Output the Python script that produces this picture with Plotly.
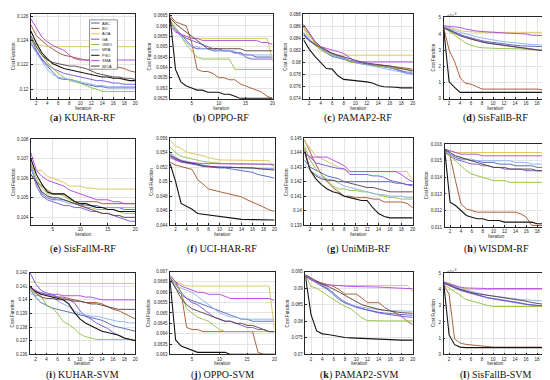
import plotly.graph_objects as go

ITER = list(range(1, 21))
SERIES = ["ABC", "BO", "AOA", "GA", "GWO", "MPA", "PSO", "SMA", "WOA"]
COLORS = {"ABC": "#4a62b4", "BO": "#a0502a", "AOA": "#d6c452", "GA": "#7050d8",
          "GWO": "#8fbf3a", "MPA": "#88b0ee", "PSO": "#141414", "SMA": "#b23fe0",
          "WOA": "#5a3a3c"}

kuhar_rf = dict(
    ABC=[0.1238,0.1231,0.1224,0.1219,0.1214,0.1209,0.1208,0.1208,0.1207,0.1205,0.1204,0.1203,0.1202,0.1202,0.1201,0.1201,0.1201,0.1201,0.1201,0.1201],
    BO=[0.1253,0.1244,0.1240,0.1236,0.1233,0.1230,0.1228,0.1227,0.1226,0.1225,0.1224,0.1224,0.1223,0.1222,0.1221,0.1219,0.1218,0.1217,0.1215,0.1214],
    AOA=[0.1239,0.1237,0.1236,0.1235,0.1235,0.1235,0.1235,0.1235,0.1235,0.1235,0.1235,0.1235,0.1235,0.1235,0.1235,0.1235,0.1235,0.1235,0.1235,0.1235],
    GA=[0.1242,0.1232,0.1225,0.1220,0.1217,0.1215,0.1213,0.1212,0.1211,0.1210,0.1209,0.1208,0.1207,0.1207,0.1206,0.1205,0.1205,0.1204,0.1204,0.1204],
    GWO=[0.1241,0.1234,0.1228,0.1222,0.1217,0.1213,0.1210,0.1207,0.1206,0.1205,0.1203,0.1201,0.1200,0.1198,0.1198,0.1198,0.1198,0.1198,0.1198,0.1198],
    MPA=[0.1237,0.1230,0.1222,0.1216,0.1212,0.1210,0.1209,0.1208,0.1207,0.1206,0.1205,0.1204,0.1203,0.1203,0.1202,0.1202,0.1202,0.1202,0.1202,0.1202],
    PSO=[0.1248,0.1238,0.1230,0.1225,0.1221,0.1219,0.1217,0.1216,0.1215,0.1214,0.1213,0.1212,0.1211,0.1210,0.1210,0.1209,0.1209,0.1208,0.1207,0.1207],
    SMA=[0.1258,0.1250,0.1243,0.1239,0.1236,0.1234,0.1232,0.1228,0.1225,0.1224,0.1224,0.1224,0.1224,0.1224,0.1224,0.1224,0.1224,0.1224,0.1224,0.1224],
    WOA=[0.1244,0.1235,0.1228,0.1224,0.1222,0.1221,0.1220,0.1219,0.1219,0.1218,0.1217,0.1215,0.1213,0.1212,0.1211,0.1210,0.1210,0.1209,0.1209,0.1208],
)

oppo_rf = dict(
    ABC=[0.0662,0.0659,0.0656,0.0653,0.0650,0.0649,0.0649,0.0649,0.0648,0.0648,0.0648,0.0648,0.0647,0.0647,0.0646,0.0646,0.0645,0.0645,0.0645,0.0645],
    BO=[0.0665,0.0662,0.0661,0.0660,0.0652,0.0639,0.0638,0.0638,0.0637,0.0635,0.0635,0.0634,0.0634,0.0632,0.0631,0.0630,0.0629,0.0628,0.0626,0.0625],
    AOA=[0.0663,0.0659,0.0656,0.0654,0.0654,0.0654,0.0654,0.0654,0.0654,0.0654,0.0654,0.0654,0.0654,0.0654,0.0654,0.0654,0.0654,0.0654,0.0654,0.0643],
    GA=[0.0661,0.0658,0.0656,0.0654,0.0653,0.0652,0.0651,0.0650,0.0649,0.0649,0.0648,0.0648,0.0647,0.0647,0.0645,0.0644,0.0644,0.0644,0.0644,0.0644],
    GWO=[0.0663,0.0658,0.0655,0.0651,0.0648,0.0645,0.0644,0.0644,0.0644,0.0644,0.0644,0.0644,0.0639,0.0639,0.0639,0.0639,0.0639,0.0639,0.0639,0.0639],
    MPA=[0.0661,0.0658,0.0655,0.0652,0.0650,0.0650,0.0649,0.0649,0.0649,0.0648,0.0648,0.0648,0.0648,0.0646,0.0646,0.0646,0.0646,0.0646,0.0646,0.0646],
    PSO=[0.0664,0.0639,0.0633,0.0631,0.0630,0.0629,0.0629,0.0628,0.0628,0.0628,0.0627,0.0627,0.0626,0.0625,0.0625,0.0625,0.0625,0.0625,0.0625,0.0625],
    SMA=[0.0660,0.0657,0.0656,0.0655,0.0654,0.0654,0.0653,0.0653,0.0653,0.0653,0.0653,0.0653,0.0653,0.0653,0.0653,0.0653,0.0653,0.0652,0.0652,0.0651],
    WOA=[0.0664,0.0661,0.0659,0.0657,0.0655,0.0653,0.0651,0.0649,0.0649,0.0649,0.0649,0.0649,0.0649,0.0649,0.0648,0.0648,0.0648,0.0648,0.0648,0.0648],
)

pamap2_rf = dict(
    ABC=[0.0848,0.0838,0.0830,0.0822,0.0815,0.0810,0.0807,0.0805,0.0803,0.0801,0.0799,0.0797,0.0795,0.0794,0.0793,0.0791,0.0789,0.0785,0.0782,0.0781],
    BO=[0.0863,0.0850,0.0835,0.0826,0.0820,0.0815,0.0810,0.0806,0.0802,0.0800,0.0798,0.0797,0.0796,0.0796,0.0795,0.0794,0.0793,0.0792,0.0791,0.0789],
    AOA=[0.0856,0.0840,0.0828,0.0820,0.0815,0.0812,0.0812,0.0812,0.0812,0.0812,0.0812,0.0812,0.0812,0.0812,0.0812,0.0812,0.0812,0.0812,0.0812,0.0812],
    GA=[0.0845,0.0836,0.0829,0.0823,0.0818,0.0815,0.0812,0.0808,0.0803,0.0800,0.0798,0.0797,0.0796,0.0795,0.0794,0.0792,0.0789,0.0786,0.0784,0.0784],
    GWO=[0.0858,0.0845,0.0832,0.0823,0.0817,0.0813,0.0810,0.0806,0.0801,0.0799,0.0797,0.0796,0.0795,0.0794,0.0793,0.0792,0.0791,0.0789,0.0788,0.0787],
    MPA=[0.0850,0.0838,0.0829,0.0822,0.0816,0.0812,0.0809,0.0806,0.0803,0.0800,0.0798,0.0796,0.0794,0.0792,0.0790,0.0788,0.0786,0.0783,0.0781,0.0780],
    PSO=[0.0838,0.0822,0.0810,0.0800,0.0790,0.0789,0.0778,0.0772,0.0771,0.0771,0.0770,0.0768,0.0766,0.0762,0.0760,0.0760,0.0759,0.0758,0.0758,0.0758],
    SMA=[0.0862,0.0848,0.0834,0.0826,0.0823,0.0821,0.0818,0.0815,0.0808,0.0801,0.0801,0.0801,0.0801,0.0801,0.0801,0.0801,0.0801,0.0801,0.0801,0.0801],
    WOA=[0.0846,0.0836,0.0830,0.0825,0.0820,0.0815,0.0812,0.0809,0.0806,0.0804,0.0801,0.0799,0.0798,0.0797,0.0796,0.0794,0.0792,0.0790,0.0788,0.0786],
)

# values in units of 1e-3 (axis shows x10^-3)
sisfallb_rf_e3 = dict(
    ABC=[4.40,4.25,4.10,3.95,3.85,3.75,3.65,3.58,3.52,3.47,3.42,3.38,3.34,3.30,3.27,3.25,3.23,3.22,3.21,3.20],
    BO=[4.40,3.00,2.30,1.30,0.95,0.90,0.75,0.60,0.60,0.60,0.60,0.60,0.60,0.60,0.60,0.60,0.60,0.60,0.55,0.40],
    AOA=[4.50,4.40,4.30,4.20,4.15,4.12,4.10,4.10,4.10,4.10,4.10,4.10,4.10,4.10,4.10,4.10,4.10,4.10,4.10,0.50],
    GA=[4.42,4.30,4.12,3.95,3.82,3.70,3.60,3.52,3.45,3.40,3.35,3.30,3.25,3.20,3.15,3.10,3.06,3.03,3.01,3.00],
    GWO=[4.40,4.15,3.90,3.65,3.45,3.30,3.20,3.15,3.12,3.10,3.10,3.10,3.10,3.10,3.08,3.05,3.02,3.00,2.98,2.97],
    MPA=[4.45,4.35,4.22,4.10,4.00,3.90,3.82,3.75,3.68,3.62,3.57,3.52,3.48,3.44,3.40,3.37,3.35,3.33,3.32,3.31],
    PSO=[4.35,1.05,0.70,0.40,0.40,0.40,0.40,0.40,0.40,0.40,0.40,0.40,0.40,0.40,0.40,0.40,0.40,0.40,0.40,0.40],
    SMA=[4.50,4.48,4.45,4.40,4.30,4.22,4.18,4.15,4.12,4.10,4.08,4.05,4.04,4.03,4.02,4.00,3.92,3.90,3.90,3.90],
    WOA=[4.38,4.20,4.02,3.88,3.77,3.67,3.58,3.50,3.43,3.38,3.33,3.28,3.23,3.18,3.14,3.10,3.05,3.00,2.95,2.92],
)

sisfallm_rf = dict(
    ABC=[0.1065,0.1058,0.1052,0.1050,0.1049,0.1049,0.1049,0.1048,0.1047,0.1047,0.1046,0.1046,0.1046,0.1045,0.1045,0.1045,0.1045,0.1044,0.1044,0.1044],
    BO=[0.1062,0.1058,0.1056,0.1054,0.1052,0.1052,0.1052,0.1050,0.1048,0.1048,0.1048,0.1048,0.1048,0.1047,0.1047,0.1047,0.1047,0.1047,0.1047,0.1047],
    AOA=[0.1066,0.1064,0.1064,0.1061,0.1060,0.1059,0.1058,0.1056,0.1056,0.1056,0.1055,0.1055,0.10545,0.10545,0.10545,0.10545,0.10545,0.10545,0.10545,0.10545],
    GA=[0.1067,0.1056,0.1051,0.1049,0.1048,0.1047,0.1046,0.1046,0.1045,0.1045,0.1044,0.1043,0.1043,0.1042,0.1042,0.1041,0.1040,0.1039,0.1038,0.1038],
    GWO=[0.1068,0.1060,0.1055,0.1052,0.1052,0.1052,0.1051,0.1049,0.1048,0.1046,0.1045,0.1045,0.1044,0.1044,0.1044,0.1044,0.1043,0.1042,0.1042,0.1042],
    MPA=[0.1066,0.1057,0.1053,0.1051,0.1050,0.1049,0.1048,0.1047,0.1047,0.1046,0.1046,0.1046,0.1045,0.1045,0.1045,0.1045,0.1045,0.1045,0.1045,0.1045],
    PSO=[0.1070,0.1062,0.1057,0.1053,0.1052,0.1052,0.1052,0.1050,0.1048,0.1047,0.1047,0.1046,0.1045,0.1045,0.1044,0.1044,0.1043,0.1043,0.1043,0.1043],
    SMA=[0.1073,0.1064,0.1061,0.1059,0.1058,0.1057,0.1056,0.1054,0.1053,0.1052,0.1051,0.1050,0.1049,0.1049,0.1049,0.1048,0.1048,0.1047,0.1047,0.1047],
    WOA=[0.1062,0.1058,0.1053,0.1051,0.1050,0.1050,0.1049,0.1048,0.1047,0.1046,0.1045,0.1044,0.1043,0.1042,0.1042,0.1041,0.1041,0.1040,0.1040,0.1040],
)

ucihar_rf = dict(
    ABC=[0.0535,0.0530,0.0527,0.0526,0.0525,0.0523,0.0521,0.0520,0.0520,0.0519,0.0519,0.0518,0.0517,0.0516,0.0515,0.0513,0.0510,0.0508,0.0506,0.0505],
    BO=[0.0527,0.0523,0.0521,0.0519,0.0517,0.0503,0.0496,0.0490,0.0488,0.0486,0.0484,0.0483,0.0480,0.0479,0.0475,0.0472,0.0469,0.0465,0.0461,0.0459],
    AOA=[0.0557,0.0549,0.0546,0.0541,0.0539,0.0538,0.0536,0.0533,0.0531,0.0530,0.0530,0.0530,0.0530,0.0530,0.0530,0.0530,0.0530,0.0529,0.0529,0.0519],
    GA=[0.0538,0.0532,0.0528,0.0527,0.0526,0.0524,0.0522,0.0521,0.0520,0.0520,0.0520,0.0520,0.0519,0.0519,0.0519,0.0519,0.0518,0.0518,0.0518,0.0518],
    GWO=[0.0548,0.0540,0.0535,0.0533,0.0532,0.0530,0.0528,0.0527,0.0526,0.0526,0.0525,0.0525,0.0525,0.0525,0.0525,0.0525,0.0525,0.0525,0.0524,0.0522],
    MPA=[0.0540,0.0534,0.0530,0.0528,0.0527,0.0525,0.0523,0.0521,0.0521,0.0520,0.0520,0.0520,0.0519,0.0519,0.0519,0.0519,0.0519,0.0519,0.0518,0.0518],
    PSO=[0.0525,0.0500,0.0470,0.0466,0.0462,0.0456,0.0455,0.0454,0.0452,0.0451,0.0450,0.0450,0.0449,0.0448,0.0448,0.0448,0.0448,0.0447,0.0447,0.0447],
    SMA=[0.0533,0.0530,0.0528,0.0527,0.0526,0.0526,0.0525,0.0525,0.0525,0.0525,0.0525,0.0525,0.0524,0.0524,0.0524,0.0524,0.0524,0.0524,0.0524,0.0524],
    WOA=[0.0536,0.0532,0.0529,0.0527,0.0526,0.0524,0.0522,0.0521,0.0521,0.0520,0.0520,0.0520,0.0520,0.0519,0.0519,0.0519,0.0518,0.0517,0.0516,0.0516],
)

unimib_rf = dict(
    ABC=[0.1435,0.1430,0.1428,0.1426,0.1424,0.1423,0.1422,0.1420,0.1420,0.1420,0.1420,0.1420,0.1420,0.1420,0.1420,0.1420,0.1419,0.1419,0.1418,0.1418],
    BO=[0.1449,0.1440,0.1432,0.1425,0.1420,0.1416,0.1413,0.1410,0.1410,0.1409,0.1409,0.1409,0.1408,0.1408,0.1406,0.1406,0.1406,0.1406,0.1405,0.1402],
    AOA=[0.1448,0.1443,0.1438,0.1436,0.1434,0.1432,0.1430,0.1428,0.1427,0.1427,0.1427,0.1427,0.1427,0.1427,0.1427,0.1427,0.1427,0.1427,0.1427,0.1421],
    GA=[0.1440,0.1437,0.1433,0.1432,0.1431,0.1430,0.1429,0.1429,0.1425,0.1425,0.1425,0.1425,0.1424,0.1424,0.1423,0.1421,0.1420,0.1419,0.1418,0.1417],
    GWO=[0.1445,0.1435,0.1429,0.1425,0.1421,0.1417,0.1415,0.1415,0.1414,0.1414,0.1413,0.1413,0.1412,0.1411,0.1410,0.1409,0.1409,0.1408,0.1408,0.1408],
    MPA=[0.1432,0.1428,0.1425,0.1423,0.1422,0.1421,0.1419,0.1417,0.1416,0.1415,0.1414,0.1413,0.1412,0.1411,0.1411,0.1410,0.1410,0.1410,0.1409,0.1409],
    PSO=[0.1441,0.1428,0.1422,0.1418,0.1415,0.1413,0.1412,0.1410,0.1409,0.1408,0.1407,0.1407,0.1402,0.1398,0.1396,0.1395,0.1395,0.1395,0.1395,0.1395],
    SMA=[0.1440,0.1437,0.1437,0.1437,0.1437,0.1435,0.1433,0.1431,0.1427,0.1427,0.1427,0.1427,0.1427,0.1427,0.1427,0.1427,0.1427,0.1425,0.1422,0.1420],
    WOA=[0.1443,0.1428,0.1424,0.1422,0.1421,0.1421,0.1420,0.1420,0.1419,0.1418,0.1417,0.1416,0.1416,0.1415,0.1414,0.1413,0.1413,0.1413,0.1413,0.1413],
)

wisdm_rf = dict(
    ABC=[0.0157,0.0154,0.0152,0.0151,0.0151,0.0150,0.0150,0.0149,0.0149,0.0149,0.0148,0.0148,0.0148,0.0147,0.0147,0.0147,0.0147,0.0146,0.0146,0.0146],
    BO=[0.0157,0.0153,0.0138,0.0124,0.0121,0.0120,0.0119,0.0119,0.0119,0.0119,0.0119,0.0119,0.0119,0.0119,0.0118,0.0116,0.0111,0.0111,0.0111,0.0111],
    AOA=[0.0157,0.0156,0.0155,0.0155,0.0155,0.0155,0.0155,0.0155,0.0155,0.0155,0.0155,0.0155,0.0155,0.0155,0.0155,0.0155,0.0155,0.0155,0.0155,0.0127],
    GA=[0.0155,0.0153,0.0151,0.0150,0.0149,0.0148,0.0148,0.0147,0.0147,0.0146,0.0146,0.0145,0.0145,0.0145,0.0145,0.0144,0.0144,0.0144,0.0144,0.0143],
    GWO=[0.0156,0.0153,0.0150,0.0147,0.0144,0.0142,0.0141,0.0140,0.0139,0.0138,0.0138,0.0138,0.0137,0.0137,0.0137,0.0137,0.0137,0.0137,0.0137,0.0137],
    MPA=[0.0156,0.0154,0.0153,0.0152,0.0151,0.0151,0.0150,0.0150,0.0150,0.0150,0.0150,0.0150,0.0150,0.0149,0.0149,0.0149,0.0148,0.0148,0.0148,0.0148],
    PSO=[0.0157,0.0125,0.0123,0.0120,0.0117,0.0116,0.0115,0.0115,0.0114,0.0114,0.0114,0.0113,0.0113,0.0113,0.0113,0.0113,0.0113,0.0112,0.0112,0.0112],
    SMA=[0.0157,0.0156,0.0155,0.0154,0.0154,0.0154,0.0154,0.0153,0.0153,0.0153,0.0153,0.0153,0.0153,0.0153,0.0153,0.0153,0.0153,0.0153,0.0153,0.0153],
    WOA=[0.0157,0.0155,0.0153,0.0152,0.0151,0.0150,0.0149,0.0148,0.0147,0.0146,0.0146,0.0146,0.0145,0.0145,0.0145,0.0145,0.0145,0.0144,0.0144,0.0144],
)

kuhar_svm = dict(
    ABC=[0.1408,0.1402,0.1398,0.1396,0.1394,0.1393,0.1392,0.1391,0.1390,0.1389,0.1388,0.1387,0.1386,0.1385,0.1383,0.1381,0.1380,0.1379,0.1378,0.1377],
    BO=[0.1410,0.1406,0.1405,0.1404,0.1403,0.1402,0.1402,0.1401,0.1400,0.1399,0.1398,0.1398,0.1398,0.1397,0.1395,0.1393,0.1392,0.1390,0.1388,0.1386],
    AOA=[0.1413,0.1413,0.1412,0.1412,0.1412,0.1412,0.1412,0.1412,0.1412,0.1412,0.1412,0.1412,0.1412,0.1412,0.1412,0.1412,0.1412,0.1412,0.1412,0.1412],
    GA=[0.1420,0.1412,0.1407,0.1405,0.1404,0.1402,0.1401,0.1400,0.1398,0.1392,0.1388,0.1386,0.1383,0.1381,0.1379,0.1376,0.1374,0.1372,0.1371,0.1370],
    GWO=[0.1409,0.1403,0.1403,0.1396,0.1394,0.1390,0.1384,0.1382,0.1379,0.1375,0.1373,0.1372,0.1371,0.1371,0.1371,0.1371,0.1371,0.1371,0.1371,0.1371],
    MPA=[0.1405,0.1403,0.1405,0.1405,0.1403,0.1399,0.1397,0.1395,0.1392,0.1390,0.1389,0.1388,0.1388,0.1387,0.1386,0.1385,0.1384,0.1384,0.1383,0.1383],
    PSO=[0.1410,0.1406,0.1404,0.1403,0.1402,0.1401,0.1400,0.1397,0.1391,0.1386,0.1383,0.1381,0.1379,0.1377,0.1376,0.1375,0.1374,0.1372,0.1371,0.1370],
    SMA=[0.1409,0.1407,0.1405,0.1404,0.1404,0.1404,0.1403,0.1403,0.1403,0.1403,0.1402,0.1402,0.1401,0.1400,0.1400,0.1400,0.1400,0.1400,0.1400,0.1400],
    WOA=[0.1410,0.1405,0.1402,0.1401,0.1401,0.1400,0.1400,0.1400,0.1399,0.1399,0.1398,0.1397,0.1397,0.1396,0.1395,0.1394,0.1393,0.1393,0.1393,0.1393],
)

oppo_svm = dict(
    ABC=[0.0666,0.0662,0.0659,0.0657,0.0656,0.0655,0.0654,0.0653,0.0652,0.0651,0.0650,0.0649,0.0648,0.0647,0.0647,0.0646,0.0646,0.0646,0.0646,0.0646],
    BO=[0.0668,0.0665,0.0660,0.0643,0.0642,0.0642,0.0641,0.0641,0.0641,0.0641,0.0641,0.0641,0.0641,0.0641,0.0641,0.0641,0.0631,0.0630,0.0630,0.0630],
    AOA=[0.0668,0.0665,0.0664,0.0663,0.0663,0.0663,0.0663,0.0663,0.0663,0.0663,0.0663,0.0663,0.0663,0.0663,0.0663,0.0663,0.0663,0.0663,0.0663,0.0642],
    GA=[0.0667,0.0664,0.0660,0.0657,0.0655,0.0654,0.0652,0.0650,0.0648,0.0647,0.0646,0.0646,0.0645,0.0644,0.0643,0.0643,0.0642,0.0642,0.0641,0.0641],
    GWO=[0.0667,0.0664,0.0660,0.0652,0.0650,0.0648,0.0647,0.0646,0.0644,0.0642,0.0641,0.0641,0.0641,0.0641,0.0641,0.0641,0.0641,0.0641,0.0641,0.0641],
    MPA=[0.0665,0.0663,0.0662,0.0661,0.0660,0.0658,0.0656,0.0654,0.0652,0.0650,0.0649,0.0648,0.0648,0.0647,0.0647,0.0647,0.0647,0.0647,0.0647,0.0647],
    PSO=[0.0665,0.0637,0.0634,0.0633,0.0632,0.0631,0.0631,0.0631,0.0631,0.0631,0.0631,0.0630,0.0630,0.0630,0.0630,0.0630,0.0630,0.0630,0.0630,0.0630],
    SMA=[0.0668,0.0665,0.0663,0.0662,0.0661,0.0660,0.0660,0.0659,0.0659,0.0659,0.0658,0.0657,0.0657,0.0657,0.0657,0.0657,0.0657,0.0657,0.0657,0.0656],
    WOA=[0.0667,0.0662,0.0657,0.0654,0.0652,0.0651,0.0650,0.0649,0.0648,0.0647,0.0646,0.0646,0.0645,0.0645,0.0644,0.0644,0.0643,0.0642,0.0641,0.0641],
)

pamap2_svm = dict(
    ABC=[0.0940,0.0925,0.0915,0.0905,0.0895,0.0880,0.0865,0.0855,0.0848,0.0842,0.0838,0.0834,0.0830,0.0827,0.0825,0.0823,0.0821,0.0820,0.0819,0.0818],
    BO=[0.0935,0.0925,0.0920,0.0915,0.0910,0.0905,0.0895,0.0882,0.0882,0.0882,0.0870,0.0856,0.0856,0.0856,0.0842,0.0832,0.0825,0.0815,0.0800,0.0790],
    AOA=[0.0935,0.0925,0.0918,0.0912,0.0908,0.0908,0.0908,0.0908,0.0908,0.0908,0.0908,0.0908,0.0908,0.0908,0.0908,0.0908,0.0908,0.0908,0.0908,0.0888],
    GA=[0.0938,0.0928,0.0918,0.0908,0.0898,0.0885,0.0870,0.0858,0.0850,0.0844,0.0838,0.0833,0.0829,0.0825,0.0822,0.0819,0.0817,0.0815,0.0813,0.0812],
    GWO=[0.0938,0.0905,0.0900,0.0888,0.0878,0.0865,0.0855,0.0845,0.0838,0.0825,0.0810,0.0802,0.0801,0.0801,0.0801,0.0801,0.0801,0.0801,0.0801,0.0801],
    MPA=[0.0940,0.0928,0.0918,0.0910,0.0900,0.0885,0.0868,0.0858,0.0850,0.0845,0.0842,0.0840,0.0838,0.0835,0.0833,0.0832,0.0831,0.0831,0.0830,0.0830],
    PSO=[0.0937,0.0820,0.0771,0.0762,0.0760,0.0757,0.0752,0.0751,0.0750,0.0749,0.0748,0.0748,0.0747,0.0745,0.0744,0.0744,0.0743,0.0743,0.0743,0.0743],
    SMA=[0.0935,0.0925,0.0918,0.0912,0.0910,0.0908,0.0907,0.0906,0.0905,0.0905,0.0905,0.0905,0.0904,0.0903,0.0902,0.0901,0.0900,0.0899,0.0898,0.0898],
    WOA=[0.0940,0.0930,0.0920,0.0912,0.0905,0.0897,0.0888,0.0878,0.0868,0.0858,0.0850,0.0845,0.0840,0.0836,0.0833,0.0830,0.0828,0.0826,0.0825,0.0824],
)

# values in units of 1e-3 (axis shows x10^-3)
sisfallb_svm_e3 = dict(
    ABC=[4.45,4.30,4.15,4.00,3.90,3.80,3.70,3.60,3.50,3.45,3.40,3.35,3.30,3.25,3.18,3.10,3.05,3.00,2.95,2.92],
    BO=[4.30,3.70,0.95,0.70,0.62,0.58,0.55,0.50,0.45,0.45,0.45,0.45,0.45,0.45,0.45,0.45,0.45,0.45,0.45,0.45],
    AOA=[4.50,4.40,4.25,4.12,4.05,4.02,4.00,4.00,4.00,4.00,4.00,4.00,4.00,4.00,4.00,4.00,4.00,4.00,4.00,0.45],
    GA=[4.40,4.25,4.10,3.95,3.85,3.75,3.65,3.55,3.48,3.42,3.36,3.30,3.24,3.18,3.12,3.08,3.05,3.02,3.00,2.98],
    GWO=[4.30,4.10,3.90,3.65,3.40,3.30,3.20,3.10,3.02,2.95,2.95,2.95,2.95,2.95,2.95,2.95,2.95,2.95,2.95,2.95],
    MPA=[4.45,4.32,4.20,4.08,3.98,3.88,3.80,3.72,3.65,3.60,3.55,3.50,3.46,3.42,3.39,3.36,3.34,3.32,3.30,3.28],
    PSO=[4.45,1.20,0.60,0.45,0.42,0.42,0.42,0.42,0.42,0.42,0.42,0.42,0.42,0.42,0.42,0.42,0.42,0.42,0.42,0.42],
    SMA=[4.45,4.35,4.25,4.15,4.10,4.08,4.07,4.06,4.06,4.06,4.06,4.06,4.06,4.06,4.06,4.06,4.06,4.06,4.06,4.06],
    WOA=[4.40,4.25,4.12,4.00,3.90,3.82,3.75,3.70,3.65,3.60,3.55,3.50,3.45,3.40,3.35,3.28,3.20,3.15,3.10,3.05],
)

W, H = 550, 380
def px(x): return x / W
def py(y): return 1 - y / H

# (letter, caption, data, y range, y dtick, y tick0, x dtick, pixel box (l, r, t, b), exponent, label width px)
PANELS = [
    ("a", "KUHAR-RF", kuhar_rf, [0.1192, 0.1262], 0.002, 0.12, 2, (23, 128, 4, 90), False, 13),
    ("b", "OPPO-RF", oppo_rf, [0.06248, 0.06658], 0.0005, 0.0625, 5, (163, 266, 4, 90), False, 16),
    ("c", "PAMAP2-RF", pamap2_rf, [0.074, 0.088], 0.002, 0.074, 2, (297, 407, 4, 90), False, 13),
    ("d", "SisFallB-RF", sisfallb_rf_e3, [0, 5.05], 1, 0, 2, (438, 543, 7, 90), True, 5),
    ("e", "SisFallM-RF", sisfallm_rf, [0.1036, 0.108], 0.001, 0.104, 5, (23, 128, 131, 218), False, 13),
    ("f", "UCI-HAR-RF", ucihar_rf, [0.044, 0.056], 0.002, 0.044, 2, (163, 268, 130, 218), False, 13),
    ("g", "UniMiB-RF", unimib_rf, [0.139, 0.145], 0.001, 0.139, 2, (298, 407, 130, 218), False, 13),
    ("h", "WISDM-RF", wisdm_rf, [0.011, 0.016], 0.001, 0.011, 2, (439, 543, 136, 220), False, 13),
    ("i", "KUHAR-SVM", kuhar_svm, [0.136, 0.142], 0.001, 0.136, 2, (22, 128, 266, 349), False, 13),
    ("j", "OPPO-SVM", oppo_svm, [0.063, 0.067], 0.0005, 0.063, 5, (163, 268, 265, 349), False, 16),
    ("k", "PAMAP2-SVM", pamap2_svm, [0.07, 0.095], 0.005, 0.07, 2, (299, 407, 265, 349), False, 13),
    ("l", "SisFallB-SVM", sisfallb_svm_e3, [0, 5.05], 1, 0, 2, (438, 543, 266, 349), True, 5),
]
CAPTION_Y = {0: 109, 1: 242, 2: 370}

FONT = "Liberation Sans"
TICK_FONT = dict(family=FONT, size=4.5, color="#262626")
AX_COL = "#262626"

fig = go.Figure()
annotations = []
shapes = []
layout_axes = {}

for i, (letter, cap, data, yr, ydt, y0, xdt, box, expo, lw) in enumerate(PANELS, start=1):
    l, r, t, b = box
    sfx = "" if i == 1 else str(i)
    for s in SERIES:
        fig.add_trace(go.Scatter(
            x=ITER, y=data[s], mode="lines", name=s, showlegend=False,
            line=dict(color=COLORS[s], width=1.1 if s == "PSO" else 0.9),
            xaxis="x" + sfx, yaxis="y" + sfx, hoverinfo="skip"))
    common = dict(showline=True, mirror=True, linecolor=AX_COL, linewidth=0.6,
                  ticks="inside", ticklen=2, tickwidth=0.5, tickcolor=AX_COL,
                  showgrid=True, gridcolor="#e4e4e4", gridwidth=0.5, zeroline=False,
                  tickfont=TICK_FONT, fixedrange=True, ticklabeloverflow="allow")
    layout_axes["xaxis" + sfx] = dict(domain=[px(l), px(r)], anchor="y" + sfx,
                                      range=[1, 20], tickmode="linear", tick0=0, dtick=xdt,
                                      ticklabelstandoff=0, **common)
    layout_axes["yaxis" + sfx] = dict(domain=[py(b), py(t)], anchor="x" + sfx,
                                      range=yr, tickmode="linear", tick0=y0, dtick=ydt,
                                      ticklabelstandoff=1, **common)
    cx = (l + r) / 2
    annotations.append(dict(x=px(cx), y=py(b + 9.5), xref="paper", yref="paper",
                            text="Iteration", showarrow=False, xanchor="center", yanchor="middle",
                            font=dict(family=FONT, size=4.5, color="#262626")))
    annotations.append(dict(x=px(l - lw - 5), y=py((t + b) / 2), xref="paper", yref="paper",
                            text="Cost Function", showarrow=False, textangle=-90,
                            xanchor="center", yanchor="middle",
                            font=dict(family=FONT, size=4.5, color="#262626")))
    annotations.append(dict(x=px(cx), y=py(CAPTION_Y[(i - 1) // 4]), xref="paper", yref="paper",
                            text=f"(<b>{letter}</b>) {cap}", showarrow=False,
                            xanchor="center", yanchor="middle",
                            font=dict(family="Liberation Serif", size=10, color="#111111")))
    if expo:
        annotations.append(dict(x=px(l + 1), y=py(t - 6.5), xref="paper", yref="paper",
                                text="×10<sup>-3</sup>", showarrow=False,
                                xanchor="left", yanchor="top",
                                font=dict(family=FONT, size=4, color="#262626")))

# legend box drawn inside panel (a)
LEG_L, LEG_R, LEG_T, LEG_B = 82, 110, 10, 60
shapes.append(dict(type="rect", xref="paper", yref="paper",
                   x0=px(LEG_L), x1=px(LEG_R), y0=py(LEG_B), y1=py(LEG_T),
                   fillcolor="white", line=dict(color=AX_COL, width=0.5), layer="above"))
for k, s in enumerate(SERIES):
    yy = LEG_T + 3.2 + k * 5.45
    shapes.append(dict(type="line", xref="paper", yref="paper",
                       x0=px(LEG_L + 1.5), x1=px(LEG_L + 10), y0=py(yy), y1=py(yy),
                       line=dict(color=COLORS[s], width=1), layer="above"))
    annotations.append(dict(x=px(LEG_L + 11), y=py(yy), xref="paper", yref="paper",
                            text=s, showarrow=False, xanchor="left", yanchor="middle",
                            font=dict(family=FONT, size=4, color="#262626")))

fig.update_layout(
    width=W, height=H, margin=dict(l=0, r=0, t=0, b=0),
    paper_bgcolor="white", plot_bgcolor="white",
    showlegend=False, annotations=annotations, shapes=shapes,
    **layout_axes)

fig.write_html("out.html")
